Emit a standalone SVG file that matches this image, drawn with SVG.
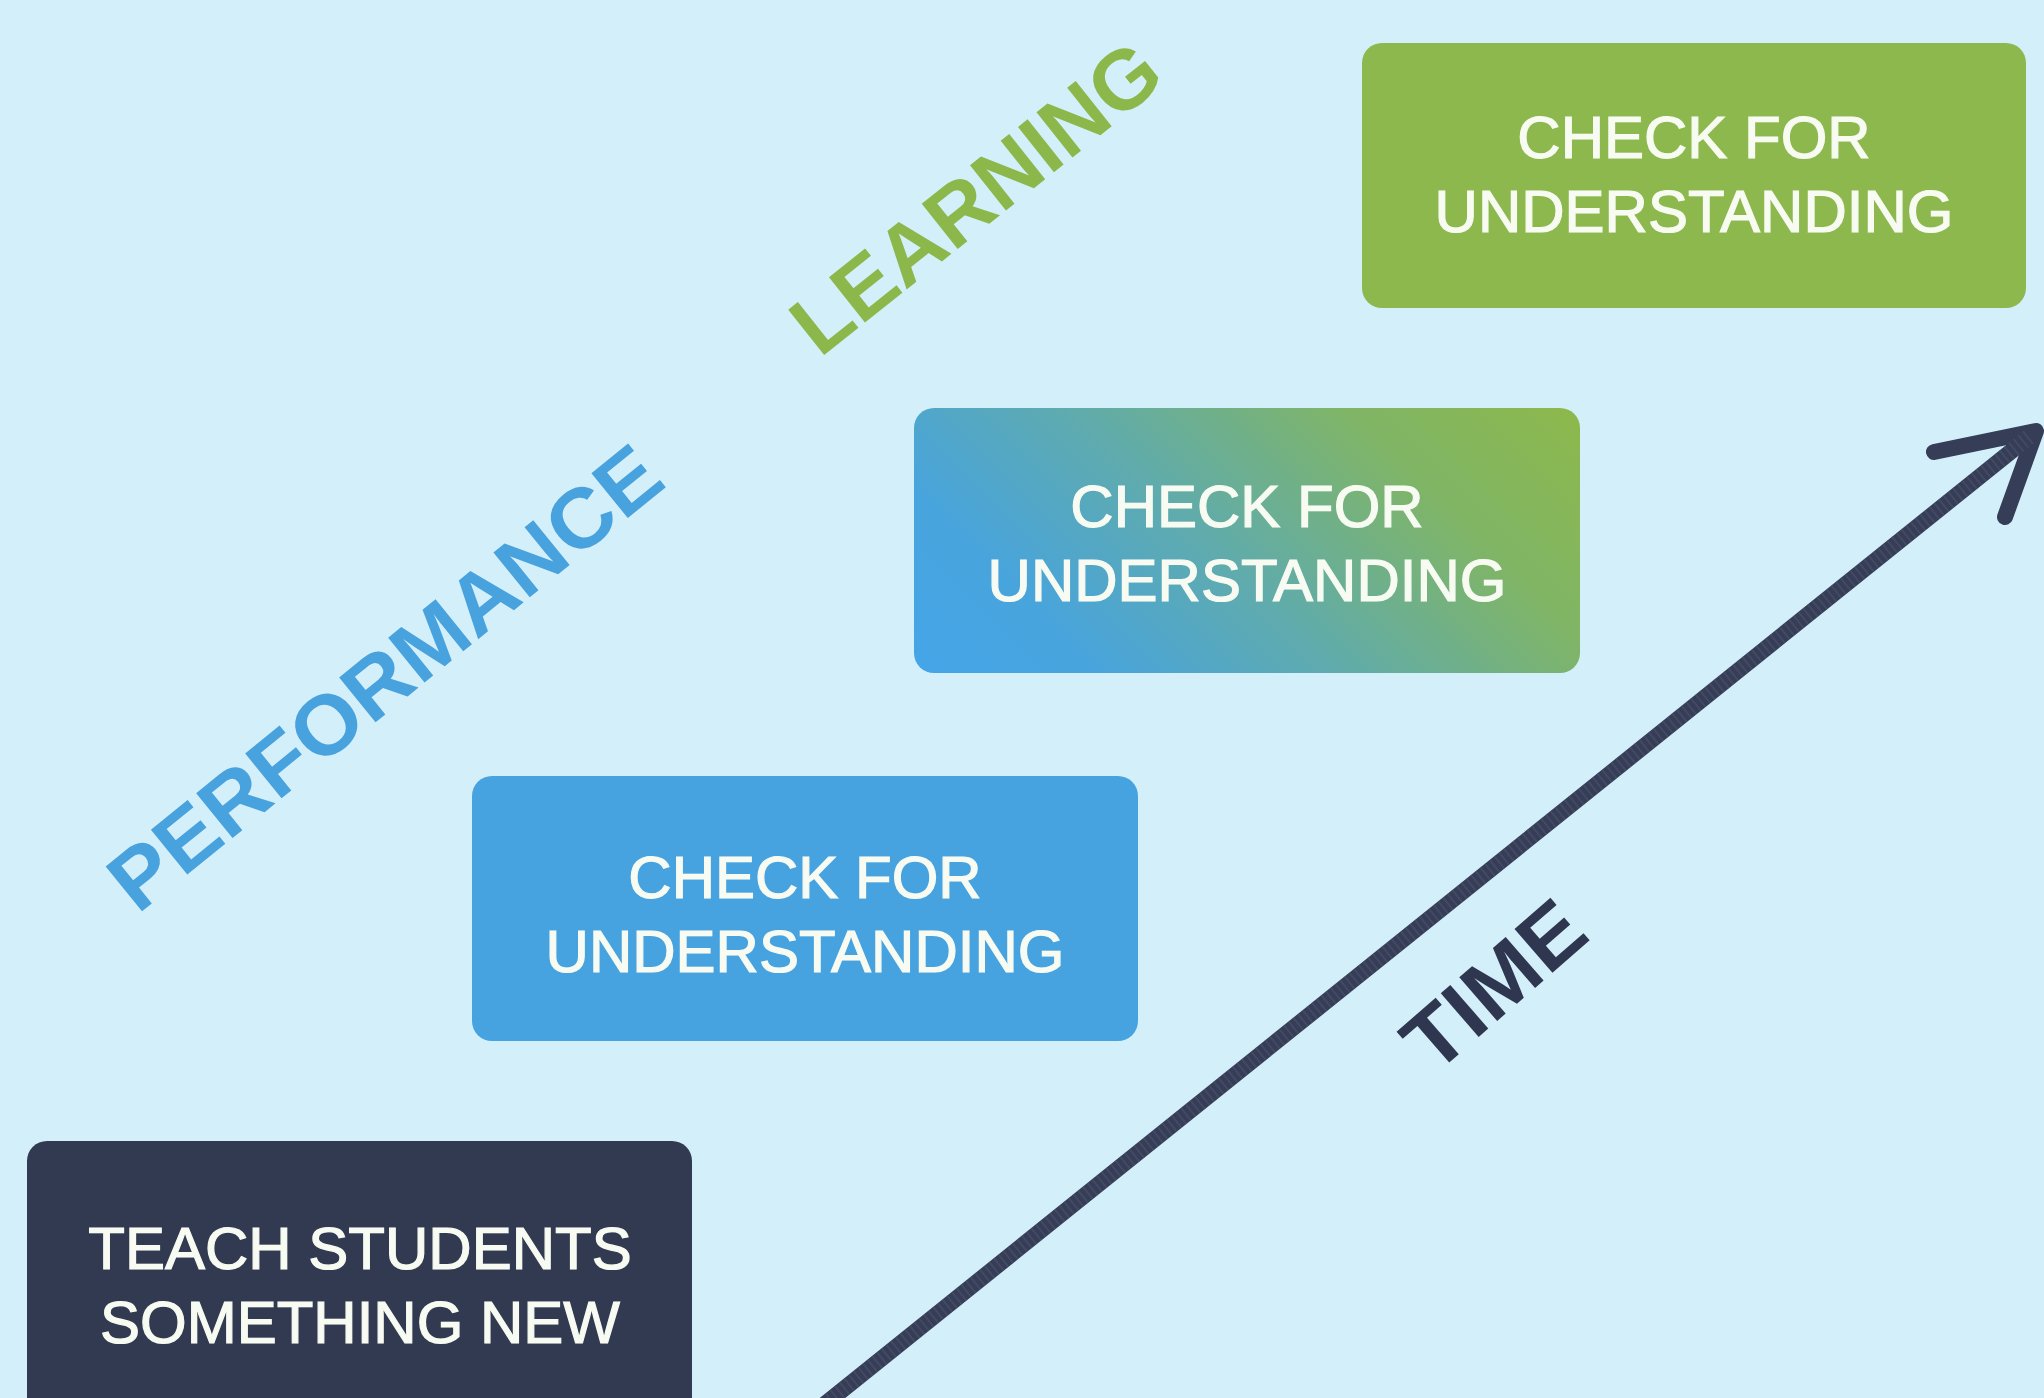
<svg xmlns="http://www.w3.org/2000/svg" width="2044" height="1398" viewBox="0 0 2044 1398">
<style>
.box-text{font-family:"Liberation Sans",Arial,sans-serif;font-size:60px;fill:#F7FBF2;stroke:#F7FBF2;stroke-width:1.2px;text-anchor:middle}
.axis{font-family:"Liberation Sans",Arial,sans-serif;font-weight:bold;font-size:84px;text-anchor:middle}
.arrow{fill:none;stroke:#363D57;stroke-width:16;stroke-linecap:round;stroke-linejoin:round}
.arrow-tex{fill:none;stroke:#5B627C;stroke-width:16;stroke-dasharray:2 4;opacity:0.35}
</style>
<defs>
<linearGradient id="blueGreen" gradientUnits="userSpaceOnUse" x1="914" y1="673" x2="1379" y2="208">
<stop offset="0" stop-color="#44A5E8"/>
<stop offset="0.2" stop-color="#48A4DC"/>
<stop offset="0.45" stop-color="#5FABAE"/>
<stop offset="0.75" stop-color="#80B566"/>
<stop offset="1" stop-color="#8DB84B"/>
</linearGradient>
</defs>
<rect x="0" y="0" width="2044" height="1398" fill="#D3EFFA"/>
<g id="connectors">
<path class="arrow" d="M825 1404 L2034 433"/>
<path class="arrow" d="M1934 452 L2036 431 L2005 517"/>
<path class="arrow-tex" d="M825 1404 L2030 436"/>
</g>
<g id="node-teach">
<rect x="27" y="1141" width="665" height="280" rx="20" fill="#323A52"/>
<text class="box-text" x="360" y="1269">TEACH STUDENTS</text>
<text class="box-text" x="360" y="1343">SOMETHING NEW</text>
</g>
<g id="node-check-1">
<rect x="472" y="776" width="666" height="265" rx="20" fill="#47A3DF"/>
<text class="box-text" x="805" y="898">CHECK FOR</text>
<text class="box-text" x="805" y="972">UNDERSTANDING</text>
</g>
<g id="node-check-2">
<rect x="914" y="408" width="666" height="265" rx="20" fill="url(#blueGreen)"/>
<text class="box-text" x="1247" y="527">CHECK FOR</text>
<text class="box-text" x="1247" y="601">UNDERSTANDING</text>
</g>
<g id="node-check-3">
<rect x="1362" y="43" width="664" height="265" rx="20" fill="#8DB84E"/>
<text class="box-text" x="1694" y="158">CHECK FOR</text>
<text class="box-text" x="1694" y="232">UNDERSTANDING</text>
</g>
<g id="label-performance">
<text class="axis" fill="#48A2DE" transform="translate(403,700) rotate(-39)" textLength="683" lengthAdjust="spacingAndGlyphs">PERFORMANCE</text>
</g>
<g id="label-learning">
<text class="axis" fill="#8CB84B" transform="translate(994,220) rotate(-38.5)" textLength="445" lengthAdjust="spacingAndGlyphs">LEARNING</text>
</g>
<g id="label-time">
<text class="axis" fill="#2F3650" transform="translate(1513,1007) rotate(-41)" textLength="210" lengthAdjust="spacingAndGlyphs">TIME</text>
</g>
</svg>
